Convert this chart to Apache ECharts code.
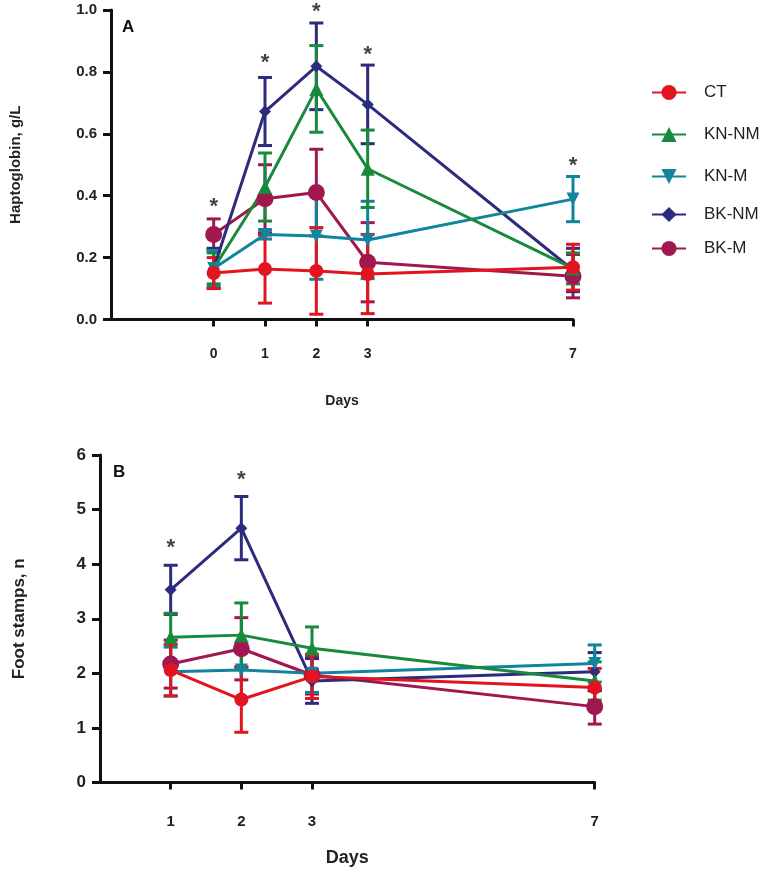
<!DOCTYPE html>
<html><head><meta charset="utf-8">
<script src="https://cdn.jsdelivr.net/npm/echarts@6/dist/echarts.min.js"></script>
<style>html,body{margin:0;padding:0;background:#fff}#c{width:780px;height:872px}</style>
</head><body><div id="c"></div>
<script>
// ---------- DATA ----------
const groupNames = ['CT', 'KN-NM', 'KN-M', 'BK-NM', 'BK-M'];

// Panel A: Haptoglobin (g/L) by day
const daysA = [0, 1, 2, 3, 7];
const hapCT    = [0.150, 0.163, 0.157, 0.147, 0.169];
const hapCTse  = [0.050, 0.110, 0.140, 0.128, 0.074];
const hapKNNM  = [0.165, 0.428, 0.745, 0.487, 0.165];
const hapKNNMse= [0.050, 0.110, 0.140, 0.125, 0.050];
const hapKNM   = [0.165, 0.275, 0.270, 0.257, 0.389];
const hapKNMse = [0.058, 0.015, 0.140, 0.125, 0.073];
const hapBKNM  = [0.165, 0.672, 0.818, 0.695, 0.160];
const hapBKNMse= [0.065, 0.110, 0.140, 0.127, 0.070];
const hapBKM   = [0.275, 0.390, 0.410, 0.185, 0.140];
const hapBKMse = [0.050, 0.110, 0.140, 0.128, 0.070];
const starDaysA = [0, 1, 2, 3, 7];
const starYA    = [0.383, 0.848, 1.013, 0.874, 0.515];

// Panel B: Foot stamps (n) by day
const daysB = [1, 2, 3, 7];
const fsCT    = [2.06, 1.52, 1.94, 1.74];
const fsCTse  = [0.47, 0.60, 0.40, 0.35];
const fsKNNM  = [2.66, 2.70, 2.46, 1.86];
const fsKNNMse= [0.44, 0.59, 0.39, 0.35];
const fsKNM   = [2.03, 2.06, 2.00, 2.18];
const fsKNMse = [0.45, 0.50, 0.35, 0.34];
const fsBKNM  = [3.53, 4.66, 1.86, 2.03];
const fsBKNMse= [0.45, 0.58, 0.41, 0.35];
const fsBKM   = [2.17, 2.45, 1.97, 1.39];
const fsBKMse = [0.44, 0.57, 0.35, 0.32];
const starDaysB = [1, 2];
const starYB    = [4.40, 5.65];

// ---------- STYLE ----------
const colorMap = {'CT':'#e3141f','KN-NM':'#178a3c','KN-M':'#11849f','BK-NM':'#2c2b7c','BK-M':'#a0184f'};
const symbolMap = {'CT':'circle','KN-NM':'triangle','KN-M':'path://M0,0L2,0L1,1.75Z','BK-NM':'diamond','BK-M':'circle'};
const sizeMap = {'CT':14,'KN-NM':14,'KN-M':13,'BK-NM':12,'BK-M':17};
const FONT = 'Liberation Sans, Arial, sans-serif';

const dataA = {'CT':[hapCT,hapCTse],'KN-NM':[hapKNNM,hapKNNMse],'KN-M':[hapKNM,hapKNMse],'BK-NM':[hapBKNM,hapBKNMse],'BK-M':[hapBKM,hapBKMse]};
const dataB = {'CT':[fsCT,fsCTse],'KN-NM':[fsKNNM,fsKNNMse],'KN-M':[fsKNM,fsKNMse],'BK-NM':[fsBKNM,fsBKNMse],'BK-M':[fsBKM,fsBKMse]};

function errRender(color){
  return function(params, api){
    const x = api.value(0), lo = api.value(1), hi = api.value(2);
    const p1 = api.coord([x, hi]), p2 = api.coord([x, lo]);
    const w = 7;
    const style = {stroke: color, lineWidth: 3};
    return {type:'group', children:[
      {type:'line', shape:{x1:p1[0],y1:p1[1],x2:p2[0],y2:p2[1]}, style:style},
      {type:'line', shape:{x1:p1[0]-w,y1:p1[1],x2:p1[0]+w,y2:p1[1]}, style:style},
      {type:'line', shape:{x1:p2[0]-w,y1:p2[1],x2:p2[0]+w,y2:p2[1]}, style:style}
    ]};
  };
}

const drawOrder = ['BK-M','BK-NM','KN-M','KN-NM','CT'];
const series = [];
function addPanel(idx, days, data){
  drawOrder.forEach(function(name){
    const m = data[name][0];
    series.push({
      type:'line', name:name, xAxisIndex:idx, yAxisIndex:idx, z:3,
      data: days.map(function(d,i){ return [d, m[i]]; }),
      symbol: symbolMap[name], symbolSize: sizeMap[name], showSymbol:true,
      lineStyle:{color:colorMap[name], width:3},
      itemStyle:{color:colorMap[name], borderWidth:0},
      emphasis:{disabled:true}, animation:false
    });
  });
  drawOrder.forEach(function(name){
    const m = data[name][0], se = data[name][1];
    series.push({
      type:'custom', name:name + ' SEM', xAxisIndex:idx, yAxisIndex:idx, z:2, clip:false,
      renderItem: errRender(colorMap[name]),
      data: days.map(function(d,i){ return [d, m[i]-se[i], m[i]+se[i]]; }),
      silent:true
    });
  });
}
addPanel(0, daysA, dataA);
addPanel(1, daysB, dataB);

function starSeries(idx, xs, ys){
  return {
    type:'scatter', name:'sig', xAxisIndex:idx, yAxisIndex:idx, z:5, clip:false, silent:true,
    symbol:'circle', symbolSize:2, itemStyle:{color:'rgba(0,0,0,0)'},
    data: xs.map(function(d,i){ return [d, ys[i]]; }),
    label:{show:true, formatter:'*', position:'inside', fontSize:22, fontWeight:'bold', fontFamily:FONT, color:'#111', offset:[0,6]}
  };
}
series.push(starSeries(0, starDaysA, starYA));
series.push(starSeries(1, starDaysB, starYB));

const axisLineStyle = {show:true, onZero:false, lineStyle:{color:'#111', width:3}};
const tickStyle = {show:true, length:8, lineStyle:{color:'#111', width:3}};

const legends = groupNames.map(function(name, i){
  const tops = [79, 121, 163, 201, 235];
  return {
    data:[name], left:646, top:tops[i], orient:'vertical',
    itemWidth:34, itemHeight:19, selectedMode:false,
    textStyle:{fontFamily:FONT, fontSize:17, color:'#222', padding:[0,0,0,13]}
  };
});

const option = {
  backgroundColor:'#fff',
  animation:false,
  textStyle:{fontFamily:FONT},
  legend: legends,
  grid:[
    {left:111, top:10, width:462, height:309.5},
    {left:100, top:455, width:494.7, height:327.5}
  ],
  xAxis:[
    {gridIndex:0, type:'value', min:-2, max:7, interval:1,
     axisLine:axisLineStyle,
     axisTick:Object.assign({}, tickStyle, {customValues:daysA, length:7}),
     axisLabel:{customValues:daysA, margin:28, fontSize:14, fontWeight:'bold', color:'#222', fontFamily:FONT},
     splitLine:{show:false},
     name:'Days', nameLocation:'middle', nameGap:75,
     nameTextStyle:{fontSize:14, fontWeight:'bold', color:'#222', fontFamily:FONT}
    },
    {gridIndex:1, type:'value', min:0, max:7, interval:1,
     axisLine:axisLineStyle,
     axisTick:Object.assign({}, tickStyle, {customValues:daysB, length:7}),
     axisLabel:{customValues:daysB, margin:32, fontSize:15, fontWeight:'bold', color:'#222', fontFamily:FONT},
     splitLine:{show:false},
     name:'Days', nameLocation:'middle', nameGap:67,
     nameTextStyle:{fontSize:18, fontWeight:'bold', color:'#222', fontFamily:FONT}
    }
  ],
  yAxis:[
    {gridIndex:0, type:'value', min:0, max:1, interval:0.2,
     axisLine:axisLineStyle, axisTick:tickStyle,
     axisLabel:{margin:14, fontSize:15, fontWeight:'bold', color:'#222', fontFamily:FONT,
       formatter:function(v){ return v.toFixed(1); }},
     splitLine:{show:false},
     name:'Haptoglobin, g/L', nameLocation:'middle', nameGap:88, nameRotate:90,
     nameTextStyle:{fontSize:15, fontWeight:'bold', color:'#222', fontFamily:FONT}
    },
    {gridIndex:1, type:'value', min:0, max:6, interval:1,
     axisLine:axisLineStyle, axisTick:tickStyle,
     axisLabel:{margin:14, fontSize:17, fontWeight:'bold', color:'#222', fontFamily:FONT},
     splitLine:{show:false},
     name:'Foot stamps, n', nameLocation:'middle', nameGap:72, nameRotate:90,
     nameTextStyle:{fontSize:17, fontWeight:'bold', color:'#222', fontFamily:FONT}
    }
  ],
  graphic:[
    {type:'text', left:122, top:19, style:{text:'A', font:'bold 17px '+FONT, fill:'#111'}},
    {type:'text', left:113, top:464, style:{text:'B', font:'bold 17px '+FONT, fill:'#111'}}
  ],
  series: series
};

const chart = echarts.init(document.getElementById('c'), null, {renderer:'canvas'});
chart.setOption(option);
</script>
</body></html>
